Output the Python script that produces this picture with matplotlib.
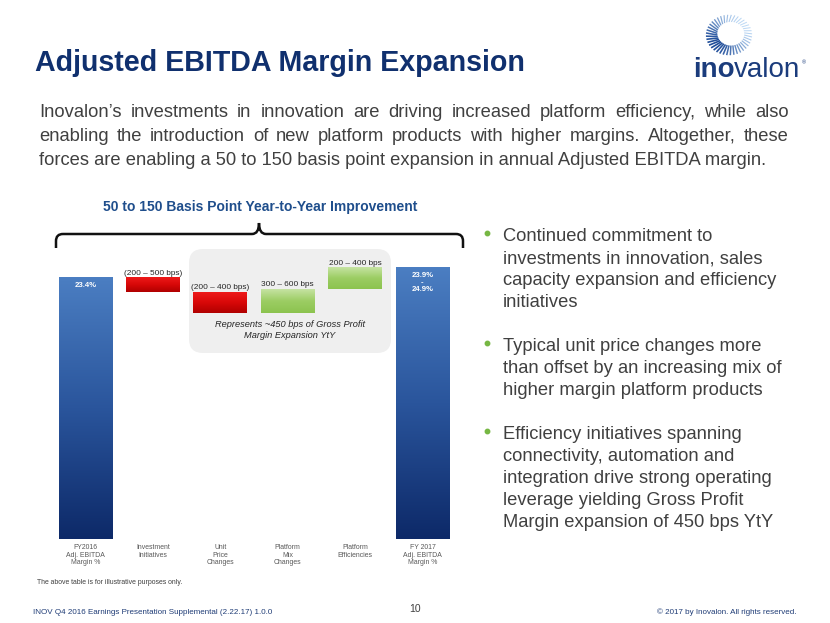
import matplotlib
matplotlib.use('Agg')
import matplotlib.pyplot as plt
import numpy as np
from matplotlib.colors import LinearSegmentedColormap
from matplotlib.patches import FancyBboxPatch, PathPatch
from matplotlib.path import Path

plt.rcParams['font.family'] = ['Liberation Sans', 'DejaVu Sans']

# ---------------- data ----------------
categories = ["FY2016\nAdj. EBITDA\nMargin %", "Investment\nInitiatives",
              "Unit\nPrice\nChanges", "Platform\nMix\nChanges",
              "Platform\nEfficiencies", "FY 2017\nAdj. EBITDA\nMargin %"]
start_value = 23.4
changes = [-1.3, -1.8, 2.1, 1.9]
change_labels = ["(200 – 500 bps)", "(200 – 400 bps)", "300 – 600 bps", "200 – 400 bps"]
start_label = "23.4%"
end_label = "23.9%\n-\n24.9%"

title = "Adjusted EBITDA Margin Expansion"
para_lines = ["Inovalon’s investments in innovation are driving increased platform efficiency, while also",
              "enabling the introduction of new platform products with higher margins. Altogether, these",
              "forces are enabling a 50 to 150 basis point expansion in annual Adjusted EBITDA margin."]
header = "50 to 150 Basis Point Year-to-Year Improvement"
box_note = "Represents ~450 bps of Gross Profit\nMargin Expansion YtY"
bullets = [["Continued commitment to", "investments in innovation, sales",
            "capacity expansion and efficiency", "initiatives"],
           ["Typical unit price changes more", "than offset by an increasing mix of",
            "higher margin platform products"],
           ["Efficiency initiatives spanning", "connectivity, automation and",
            "integration drive strong operating", "leverage yielding Gross Profit",
            "Margin expansion of 450 bps YtY"]]
footnote = "The above table is for illustrative purposes only."
footer_left = "INOV Q4 2016 Earnings Presentation Supplemental (2.22.17) 1.0.0"
footer_page = "10"
footer_right = "© 2017 by Inovalon. All rights reserved."

# ---------------- figure ----------------
W, H = 830, 623
fig = plt.figure(figsize=(8.3, 6.23), dpi=100)
bg = fig.add_axes([0, 0, 1, 1])
bg.set_xlim(0, W); bg.set_ylim(H, 0); bg.axis('off')
renderer = fig.canvas.get_renderer()

def text_w(s, fs=10, **kw):
    t = bg.text(0, 0, s, fontsize=fs, **kw)
    w = t.get_window_extent(renderer).width
    t.remove()
    return w

def size_for(s, width, **kw):
    return 10 * width / text_w(s, 10, **kw)

def fit(x, y, s, width, **kw):
    fs = size_for(s, width, **{k: v for k, v in kw.items() if k in ('fontweight', 'fontstyle', 'family')})
    return bg.text(x, y, s, fontsize=fs, **kw)

NAVY = '#10306e'
GREY = '#404040'

# Title
fit(35, 71, title, 490, fontweight='bold', color=NAVY, va='baseline', ha='left')

# Paragraph (justified)
pfs = size_for(para_lines[2], 729)
px0, px1 = 39, 789
for i, line in enumerate(para_lines):
    yb = 117 + i * 24
    if i == len(para_lines) - 1:
        bg.text(px0, yb, line, fontsize=pfs, color=GREY, va='baseline')
        continue
    words = line.split(' ')
    ws = [text_w(w_, pfs) for w_ in words]
    gap = (px1 - px0 - sum(ws)) / (len(words) - 1)
    x = px0
    for w_, wd in zip(words, ws):
        bg.text(x, yb, w_, fontsize=pfs, color=GREY, va='baseline')
        x += wd + gap

# Logo (decorative ring of dashes + wordmark)
cx, cy = 729, 35
light = np.array([0.74, 0.85, 0.96]); dark = np.array([0.12, 0.30, 0.60])
n = 40
th0 = np.deg2rad(140)
for k in range(n):
    th = 2 * np.pi * k / n
    d = (1 + np.cos(th - th0)) / 2
    r_in = 15 - 4.5 * d
    r_out = 22
    col = light + (dark - light) * d ** 1.2
    xs = [cx + r_in * np.cos(th) * 1.05, cx + r_out * np.cos(th + 0.10) * 1.05]
    ys = [cy + r_in * np.sin(th) * 0.92, cy + r_out * np.sin(th + 0.10) * 0.92]
    bg.plot(xs, ys, color=col, lw=0.7 + 0.5 * d, solid_capstyle='butt')
LOGO = '#1b3c7c'
wa = text_w("ino", 10, fontweight='bold')
wb = text_w("valon", 10)
lfs = 10 * 108 / (wa + wb)
bg.text(693, 77, "ino", fontsize=lfs, fontweight='bold', color=LOGO, va='baseline')
bg.text(693 + wa * lfs / 10, 77, "valon", fontsize=lfs, color=LOGO, va='baseline')
bg.text(804, 63, "®", fontsize=4, color=LOGO, va='center', ha='center')

# Header + brace
fit(260, 211, header, 315, fontweight='bold', color='#1f4e8c', ha='center', va='baseline')
verts = [(56, 248), (56, 241), (56, 234), (63, 234), (252, 234), (259, 234), (259, 223),
         (259, 234), (266, 234), (456, 234), (463, 234), (463, 241), (463, 248)]
codes = [Path.MOVETO, Path.LINETO, Path.CURVE3, Path.CURVE3, Path.LINETO, Path.CURVE3, Path.CURVE3,
         Path.CURVE3, Path.CURVE3, Path.LINETO, Path.CURVE3, Path.CURVE3, Path.LINETO]
bg.add_patch(PathPatch(Path(verts, codes), fill=False, lw=1.8, color='#111111'))

# grey rounded box
bg.add_patch(FancyBboxPatch((189, 249), 202, 104, boxstyle="round,pad=0,rounding_size=14",
                            fc='#efefef', ec='none'))
fit(290, 330, box_note, 150, fontstyle='italic', color='#262626', ha='center', va='center',
    linespacing=1.2)

# ---------------- chart ----------------
scale = 11.154  # px per unit
spacing = 67.4
left_px = 85.5 - 0.6 * spacing
right_px = 422.5 + 0.6 * spacing
top_px, base_px = 240, 539
ax = fig.add_axes([left_px / W, (H - base_px) / H, (right_px - left_px) / W, (base_px - top_px) / H])
ax.set_xlim(-0.6, 5.6)
ax.set_ylim(0, (base_px - top_px) / scale)
ax.axis('off')
ax.patch.set_alpha(0)

cm_blue = LinearSegmentedColormap.from_list('b', ['#0d2968', '#2a559c', '#4b7ec2'])
cm_red = LinearSegmentedColormap.from_list('r', ['#b00000', '#d80808', '#ee1a1a'])
cm_green = LinearSegmentedColormap.from_list('g', ['#8cc34f', '#9ccd63', '#c6e3a3'])
grad = np.linspace(0, 1, 256).reshape(-1, 1)
bw = 0.8

def gbar(x, b, t, cmap):
    lo, hi = min(b, t), max(b, t)
    ax.imshow(grad, extent=[x - bw / 2, x + bw / 2, lo, hi], origin='lower', cmap=cmap,
              aspect='auto', interpolation='bilinear', zorder=2)

gbar(0, 0, start_value, cm_blue)
lab_fs = size_for("300 – 600 bps", 52)
level = start_value
for i, (c, lab) in enumerate(zip(changes, change_labels)):
    new = level + c
    gbar(i + 1, level, new, cm_red if c < 0 else cm_green)
    ax.annotate(lab, xy=(i + 1, max(level, new)), xytext=(0, 1), textcoords='offset pixels',
                ha='center', va='bottom', fontsize=lab_fs, color='#262626', zorder=3)
    level = new
end_value = level
gbar(5, 0, end_value, cm_blue)

val_fs = size_for(start_label, 22, fontweight='bold')
ax.annotate(start_label, xy=(0, start_value), xytext=(0, -4), textcoords='offset pixels',
            ha='center', va='top', fontsize=val_fs, fontweight='bold', color='white', zorder=3)
ax.annotate(end_label, xy=(5, end_value), xytext=(0, -4), textcoords='offset pixels',
            ha='center', va='top', fontsize=val_fs, fontweight='bold', color='white',
            linespacing=1.05, zorder=3)

cat_fs = size_for("Efficiencies", 35)
for i, c in enumerate(categories):
    ax.annotate(c, xy=(i, 0), xytext=(0, -5), textcoords='offset pixels', ha='center', va='top',
                fontsize=cat_fs, color='#595959', linespacing=1.15, annotation_clip=False)

ax.set_xlim(-0.6, 5.6)
ax.set_ylim(0, (base_px - top_px) / scale)

# ---------------- bullets ----------------
bfs = size_for(bullets[0][1], 260)
y = 241
for blk in bullets:
    bg.plot(487, y - 8, 'o', ms=3.2, color='#76b743')
    for ln in blk:
        bg.text(503, y, ln, fontsize=bfs, color=GREY, va='baseline')
        y += 22
    y += 22

# ---------------- footer ----------------
fit(37, 584, footnote, 146, color=GREY, va='baseline')
fit(33, 614, footer_left, 239, color='#1f3c76', va='baseline')
bg.text(415, 612, footer_page, fontsize=7.5, color=GREY, va='baseline', ha='center')
fit(796, 614, footer_right, 140, color='#1f3c76', va='baseline', ha='right')

fig.savefig('out.png', dpi=100)
